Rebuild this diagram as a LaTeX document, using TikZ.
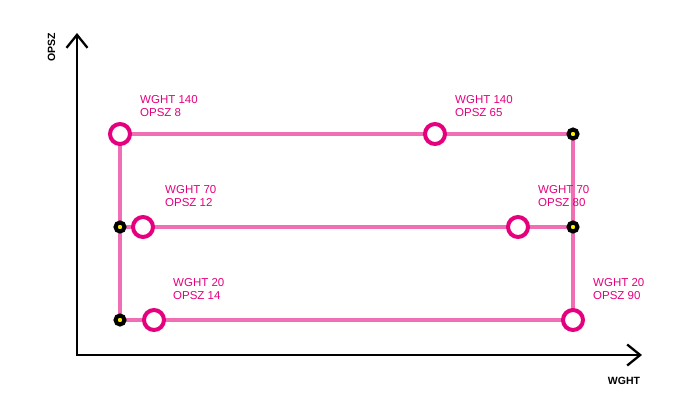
\documentclass[tikz,border=0pt]{standalone}
\usepackage{fontspec}
\setmainfont{Liberation Sans}
\usetikzlibrary{arrows.meta}
\definecolor{linepink}{HTML}{F06EB3}
\definecolor{magenta}{HTML}{E5007D}
\definecolor{dotyellow}{HTML}{FFEE00}
\begin{document}
\begin{tikzpicture}[x=1pt,y=-1pt,
  axis/.style={line width=2.3pt,black,{Straight Barb[length=13pt,width=21pt,line width=2.3pt]}-{Straight Barb[length=13pt,width=21pt,line width=2.3pt]}},
  track/.style={line width=3.6pt,linepink},
  ring/.style={circle,draw=magenta,line width=4pt,fill=white,minimum size=20pt,inner sep=0pt},
  dot/.style={circle,draw=black,line width=4pt,fill=dotyellow,minimum size=9pt,inner sep=0pt},
  lbl/.style={anchor=north west,inner sep=0pt,align=left,text=magenta,font=\fontsize{11.5}{13}\selectfont},
  axlbl/.style={inner sep=0pt,font=\fontsize{10.5}{12}\selectfont\bfseries}]
\useasboundingbox (0,0) rectangle (690,413);
% axes
\coordinate (ytop) at (77,33);
\coordinate (orig) at (77,355);
\coordinate (xend) at (642,355);
\draw[axis] (ytop) -- (orig) -- (xend);
\node[axlbl,rotate=90] (ylab) at (51.5,47) {OPSZ};
\node[axlbl] (xlab) at (624,381) {WGHT};
% corner coordinates
\coordinate (tl) at (120,134);
\coordinate (tr) at (573,134);
\coordinate (ml) at (120,227);
\coordinate (mr) at (573,227);
\coordinate (bl) at (120,320);
\coordinate (br) at (573,320);
% tracks
\draw[track] (tl) -- (tr);
\draw[track] (ml) -- (mr);
\draw[track] (bl) -- (br);
\draw[track] (tl) -- (bl);
\draw[track] (tr) -- (br);
% markers
\node[ring] (a1) at (tl) {};
\node[ring] (a2) at (435,134) {};
\node[dot]  (a3) at (tr) {};
\node[dot]  (b0) at (ml) {};
\node[ring] (b1) at (143,227) {};
\node[ring] (b2) at (518,227) {};
\node[dot]  (b3) at (mr) {};
\node[dot]  (c0) at (bl) {};
\node[ring] (c1) at (154,320) {};
\node[ring] (c2) at (br) {};
% labels
\node[lbl] (la1) at (140,95) {WGHT 140\\OPSZ 8};
\node[lbl] (la2) at (455,95) {WGHT 140\\OPSZ 65};
\node[lbl] (lb1) at (165,185) {WGHT 70\\OPSZ 12};
\node[lbl] (lb2) at (538,185) {WGHT 70\\OPSZ 80};
\node[lbl] (lc1) at (173,278) {WGHT 20\\OPSZ 14};
\node[lbl] (lc2) at (593,278) {WGHT 20\\OPSZ 90};
\end{tikzpicture}
\end{document}
